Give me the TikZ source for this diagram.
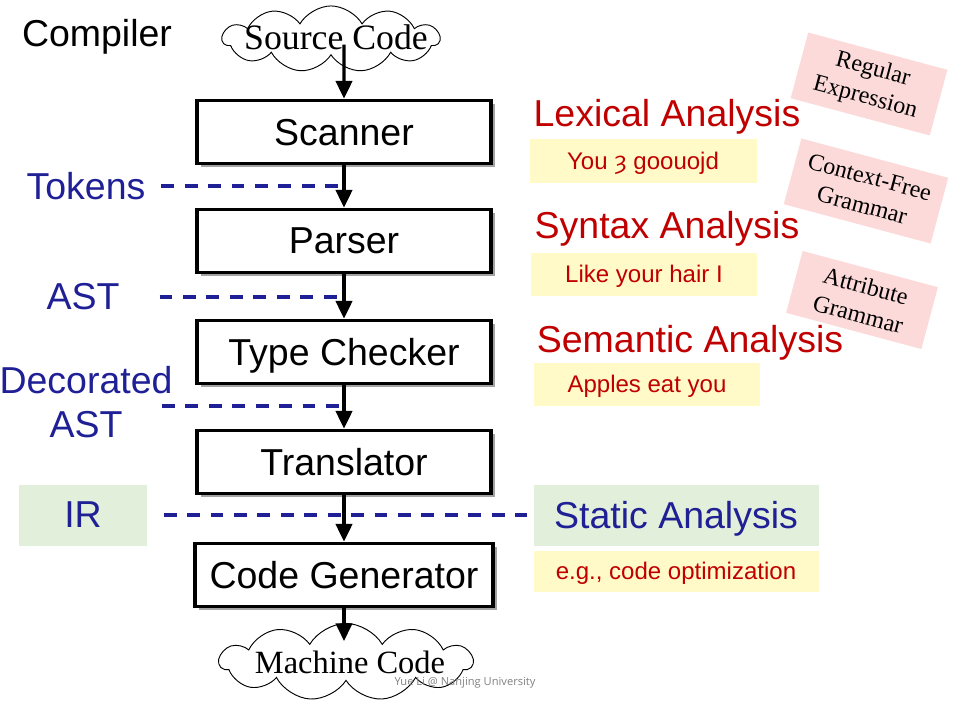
\documentclass[tikz,border=0pt]{standalone}
\usepackage{fontspec}
\setmainfont{Liberation Sans}
\newfontfamily\timesfont{Liberation Serif}
\newfontfamily\dejavufont{DejaVu Sans}
\newfontfamily\creditfont{Open Sans}
\usepackage{tikz}
\usetikzlibrary{shapes.symbols,arrows.meta,shadows,calc}
\usepackage{xcolor}
\definecolor{flownavy}{RGB}{32,32,150}
\definecolor{flowred}{RGB}{192,0,0}
\definecolor{notefill}{RGB}{255,250,200}
\definecolor{irfill}{RGB}{226,239,218}
\definecolor{gramfill}{RGB}{252,218,218}
\newdimen\pxu \pxu=0.03cm
\tikzset{
    stage/.style={rectangle, draw=black, line width=3.4pt, fill=white, minimum width=294\pxu, minimum height=63\pxu, text depth=0pt, font=\fontsize{32}{38}\selectfont, drop shadow={shadow xshift=3pt, shadow yshift=-3pt, fill=black!60, opacity=.6}},
    cloudnode/.style={cloud, cloud puffs=11, cloud puff arc=120, aspect=7, draw=black, line width=0.8pt, fill=white, inner sep=0pt, text height=17\pxu, text depth=0pt},
    cloudtext/.style={inner sep=0pt, text depth=0pt, font=\timesfont\fontsize{#1}{34}\selectfont},
    lbl/.style={text=flownavy, font=\fontsize{32}{37.5}\selectfont, align=center},
    stagetitle/.style={text=flowred, text depth=0pt, font=\fontsize{32}{38}\selectfont},
    note/.style={fill=notefill, text=flowred, minimum height=43\pxu, text depth=0pt, font=\fontsize{20.5}{24}\selectfont},
    irbox/.style={fill=irfill, text=flownavy, minimum height=61\pxu, text depth=0pt, font=\fontsize{32}{38}\selectfont},
    gram/.style={fill=gramfill, rotate=-15, align=center, inner sep=0pt, font=\timesfont\fontsize{20.5}{25}\selectfont},
    flow/.style={line width=2.6pt, -{Triangle[length=15pt,width=14pt]}},
    dashline/.style={flownavy, line width=2.6pt, dash pattern=on 11pt off 9pt},
    credit/.style={text=black!50, font=\creditfont\fontsize{9.5}{11}\selectfont},
}
\begin{document}
\begin{tikzpicture}[x=0.03cm, y=-0.03cm]
    \useasboundingbox (0,0) rectangle (953,704);

    % Title
    \node[text depth=0pt, font=\fontsize{32}{38}\selectfont] (comp) at (97,33) {Compiler};

    % Input and output
    \node[cloudnode, text width=156\pxu] (src) at (331,39) {};
    \node[cloudtext=30.5] (srctext) at (336,37) {Source Code};
    \node[cloudnode, text width=182\pxu] (mach) at (346,662) {};
    \node[cloudtext=27.7] (machtext) at (350,662) {Machine Code};

    % Stages
    \node[stage] (scan) at (344,132) {Scanner};
    \node[stage] (pars) at (344,241) {Parser};
    \node[stage] (chk) at (344,352) {Type Checker};
    \node[stage] (trans) at (344,462) {Translator};
    \node[stage, minimum width=298\pxu] (gen) at (344,575) {Code Generator};

    % Intermediate forms
    \node[lbl] (tok) at (86,186) {Tokens};
    \node[lbl] (ast) at (83,297) {AST};
    \node[lbl] (dec) at (86,402) {Decorated\\AST};
    \coordinate (decline) at (162,406);
    \node[irbox, minimum width=128\pxu] (ir) at (83,515) {IR};

    % Analyses
    \node[stagetitle] (lex) at (667,113) {Lexical Analysis};
    \node[note, minimum width=227\pxu] (lexeg) at (643,161) {You {\dejavufont ȝ} goouojd};
    \node[stagetitle] (syn) at (667,225) {Syntax Analysis};
    \node[note, minimum width=226\pxu] (syneg) at (644,274) {Like your hair I};
    \node[stagetitle] (sem) at (690,339) {Semantic Analysis};
    \node[note, minimum width=226\pxu] (semeg) at (647,384) {Apples eat you};
    \node[irbox, minimum width=285\pxu] (stat) at (676,515) {Static Analysis};
    \node[note, minimum width=285\pxu, minimum height=41\pxu] (opt) at (676,571) {e.g., code optimization};

    % Grammars
    \node[gram, minimum width=144\pxu, minimum height=68\pxu] (re) at (869,84) {Regular\\Expression};
    \node[gram, minimum width=152\pxu, minimum height=68\pxu] (cfg) at (866,191) {Context-Free\\Grammar};
    \node[gram, minimum width=140\pxu, minimum height=64\pxu] (ag) at (862,300) {Attribute\\Grammar};

    % Dashed links
    \draw[dashline, shorten <=10pt] (tok.east) -- (tok -| scan);
    \draw[dashline] (ast.east) ++(36,0) -- (ast -| pars);
    \draw[dashline] (decline) -- (decline -| chk);
    \draw[dashline, shorten <=14pt, shorten >=5pt] (ir) -- (stat);

    % Flow
    \draw[flow] ($(src.south)+(13,-11)$) -- (scan.north);
    \draw[flow] (scan) -- (pars);
    \draw[flow] (pars) -- (chk);
    \draw[flow] (chk) -- (trans);
    \draw[flow] (trans) -- (gen);
    \draw[flow] (gen) -- ($(mach.north)+(-2,18)$);

    \node[credit] (cred) at (465,683) {Yue Li @ Nanjing University};
\end{tikzpicture}
\end{document}
